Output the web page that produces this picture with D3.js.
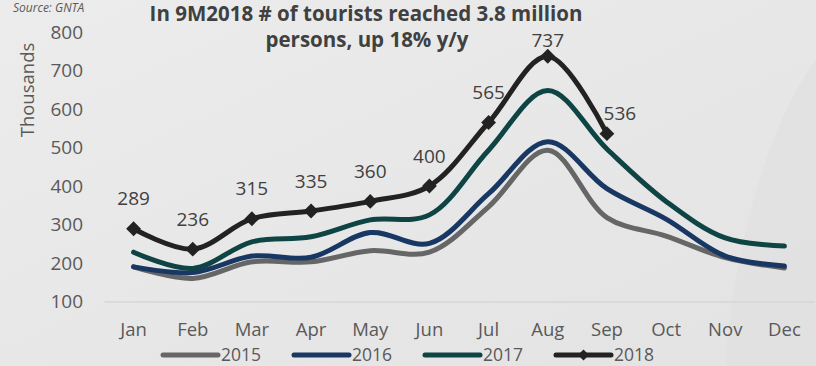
<!DOCTYPE html>
<html>
<head>
<meta charset="utf-8">
<script src="https://cdn.jsdelivr.net/npm/d3@7"></script>
<style>
  html, body { margin: 0; padding: 0; }
  body { width: 816px; height: 366px; overflow: hidden; }
  text { font-family: "Open Sans", "Noto Sans", sans-serif; }
</style>
</head>
<body>
<svg id="chart" width="816" height="366"></svg>
<script>
var months = ["Jan", "Feb", "Mar", "Apr", "May", "Jun", "Jul", "Aug", "Sep", "Oct", "Nov", "Dec"];
var years = ["2015", "2016", "2017", "2018"];
var v2015 = [190, 160, 203, 203, 232, 228, 346, 493, 318, 270, 214, 187];
var v2016 = [190, 175, 218, 215, 279, 251, 380, 515, 393, 314, 218, 192];
var v2017 = [228, 186, 255, 268, 312, 325, 493, 648, 496, 360, 265, 244];
var v2018 = [289, 236, 315, 335, 360, 400, 565, 737, 536];
var yTicks = [100, 200, 300, 400, 500, 600, 700, 800];
var colors = ["#666666", "#183763", "#0f4444", "#222222"];

var series = [v2015, v2016, v2017, v2018];

var svg = d3.select("#chart");

// background
var defs = svg.append("defs");
var grad = defs.append("linearGradient")
    .attr("id", "bg")
    .attr("x1", "0").attr("y1", "0").attr("x2", "1").attr("y2", "1");
grad.append("stop").attr("offset", "0%").attr("stop-color", "#ececec");
grad.append("stop").attr("offset", "100%").attr("stop-color", "#e3e3e3");
svg.append("rect").attr("width", 816).attr("height", 366).attr("fill", "url(#bg)");
svg.append("path")
    .attr("d", "M816,60 C770,120 735,240 725,366 L816,366 Z")
    .attr("fill", "#dfdfe1")
    .attr("opacity", 0.6);

var x = d3.scaleBand().domain(months).range([104, 814]);
var y = d3.scaleLinear().domain([100, 800]).range([301.5, 32]);

// x axis
var xAxis = svg.append("g")
    .attr("transform", "translate(0," + y(100) + ")")
    .call(d3.axisBottom(x).tickSize(0).tickSizeOuter(0).tickPadding(21));
xAxis.select(".domain").attr("stroke", "#d6d6d6").attr("stroke-width", 1.5);
xAxis.selectAll("text")
    .attr("fill", "#595959")
    .style("font-size", "18.5px");

// y axis
var yAxis = svg.append("g")
    .attr("transform", "translate(85,0)")
    .call(d3.axisLeft(y).tickValues(yTicks).tickSize(0).tickPadding(2));
yAxis.select(".domain").remove();
yAxis.selectAll("text")
    .attr("fill", "#595959")
    .style("font-size", "19px");

svg.append("text")
    .attr("transform", "translate(34,90) rotate(-90)")
    .attr("text-anchor", "middle")
    .attr("fill", "#595959")
    .style("font-size", "18.5px")
    .text("Thousands");

// lines
var line = d3.line()
    .curve(d3.curveCatmullRom)
    .x(function(d, i) { return x(months[i]) + x.bandwidth() / 2; })
    .y(function(d) { return y(d); });

svg.selectAll(".series")
    .data(series)
    .enter().append("path")
    .attr("class", "series")
    .attr("d", function(d) { return line(d); })
    .attr("fill", "none")
    .attr("stroke", function(d, i) { return colors[i]; })
    .attr("stroke-width", 5)
    .attr("stroke-linecap", "round")
    .attr("stroke-linejoin", "round");

svg.selectAll(".marker")
    .data(v2018)
    .enter().append("path")
    .attr("class", "marker")
    .attr("d", d3.symbol().type(d3.symbolSquare).size(110))
    .attr("transform", function(d, i) {
        return "translate(" + (x(months[i]) + x.bandwidth() / 2) + "," + y(d) + ") rotate(45)";
    })
    .attr("fill", colors[3]);

svg.selectAll(".dlabel")
    .data(v2018)
    .enter().append("text")
    .attr("class", "dlabel")
    .attr("x", function(d, i) {
        var cx = x(months[i]) + x.bandwidth() / 2;
        return i === v2018.length - 1 ? cx + 13 : cx;
    })
    .attr("y", function(d, i) {
        if (i === v2018.length - 1) return y(d) - 20;
        return Math.max(y(d) - 30, 40);
    })
    .attr("dy", "0.35em")
    .attr("text-anchor", "middle")
    .attr("fill", "#404040")
    .style("font-size", "19px")
    .text(function(d) { return d; });

// title
var title = svg.append("text")
    .attr("text-anchor", "middle")
    .attr("fill", "#404040")
    .style("font-size", "20.5px")
    .style("font-weight", "bold");
title.append("tspan").attr("x", 366).attr("y", 21).text("In 9M2018 # of tourists reached 3.8 million");
title.append("tspan").attr("x", 367).attr("y", 47).text("persons, up 18% y/y");

svg.append("text")
    .attr("x", 13)
    .attr("y", 12)
    .attr("fill", "#595959")
    .style("font-size", "12px")
    .style("font-style", "italic")
    .text("Source: GNTA");

// legend
var legend = svg.selectAll(".legend")
    .data(years)
    .enter().append("g")
    .attr("class", "legend")
    .attr("transform", function(d, i) { return "translate(" + (163 + i * 131) + ",355)"; });

legend.append("line")
    .attr("x1", 0).attr("x2", 55)
    .attr("stroke", function(d, i) { return colors[i]; })
    .attr("stroke-width", 5)
    .attr("stroke-linecap", "round");

legend.filter(function(d, i) { return i === 3; })
    .append("path")
    .attr("d", d3.symbol().type(d3.symbolSquare).size(60))
    .attr("transform", "translate(27.5,0) rotate(45)")
    .attr("fill", colors[3]);

legend.append("text")
    .attr("x", 58)
    .attr("dy", "0.35em")
    .attr("fill", "#595959")
    .style("font-size", "17.5px")
    .text(function(d) { return d; });
</script>
</body>
</html>
